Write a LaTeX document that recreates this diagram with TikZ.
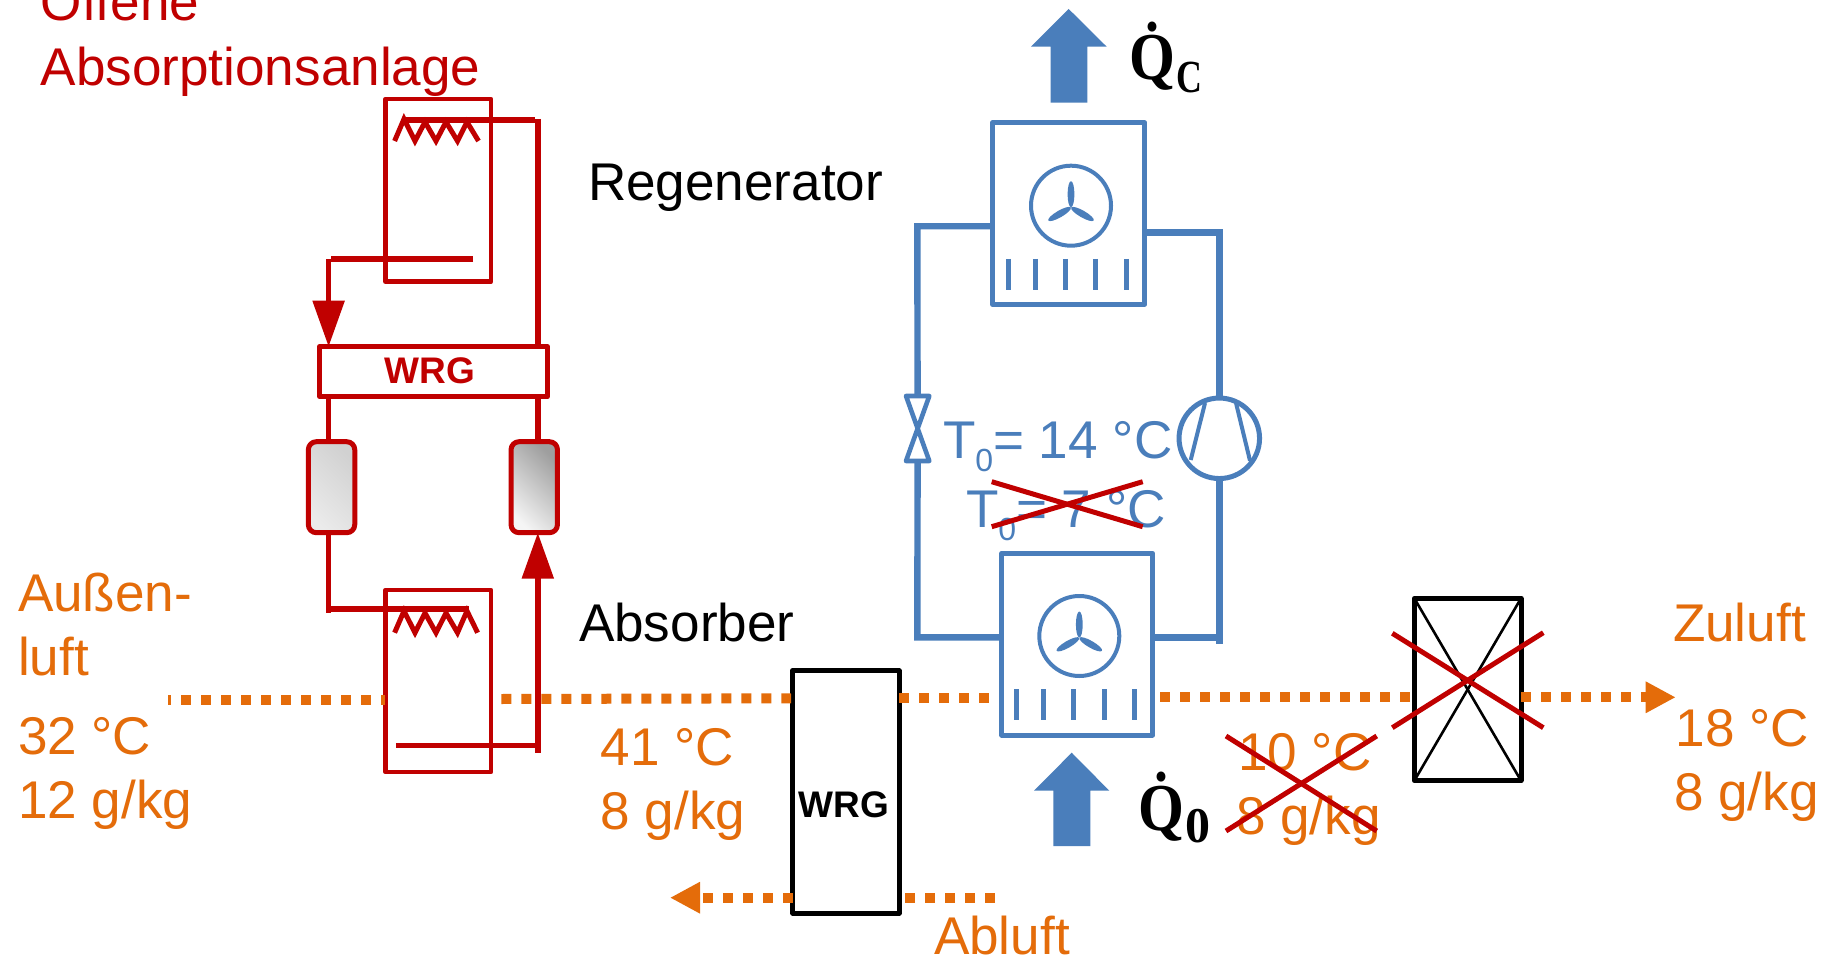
\documentclass[tikz,border=0pt]{standalone}
\usepackage{fontspec}
\usepackage{graphicx}
\setmainfont{Liberation Sans}
\newfontfamily\qfont{Liberation Serif}
\usetikzlibrary{arrows.meta}
\definecolor{cred}{HTML}{C00000}
\definecolor{corange}{HTML}{E46C0A}
\definecolor{cblue}{HTML}{4A7EBB}
\newcommand{\bigtxt}{\fontsize{53.1}{60}\selectfont}
\newcommand{\wrgtxt}{\fontsize{37}{40}\selectfont\bfseries}
\newcommand{\subzero}[1]{\raisebox{-#1}{\fontsize{32}{32}\selectfont 0}}
\tikzset{
  x=1pt,y=-1pt,
  txt/.style={anchor=base west,inner sep=0pt,outer sep=0pt,font=\bigtxt},
  redtxt/.style={txt,text=cred},
  oratxt/.style={txt,text=corange},
  blutxt/.style={txt,text=cblue},
  blktxt/.style={txt,text=black},
  wrglabel/.style={anchor=center,inner sep=0pt,font=\wrgtxt},
  qlabel/.style={anchor=base west,inner sep=0pt,font=\qfont\bfseries\fontsize{67}{70}\selectfont},
  boxbase/.style={rectangle,inner sep=0pt,outer sep=0pt,line join=round},
  redbox/.style={boxbase,draw=cred,line width=4.7pt},
  blubox/.style={boxbase,draw=cblue,line width=5pt},
  blkbox/.style={boxbase,draw=black,line width=5pt},
  recv/.style={boxbase,draw=cred,line width=5pt,rounded corners=8pt,minimum width=46.4pt,minimum height=91pt},
  rpipe/.style={draw=cred,line width=5.5pt},
  bpipe/.style={draw=cblue,line width=6.4pt},
  rarrow/.style={rpipe,-{Triangle[length=46pt,width=31pt]}},
  air/.style={draw=corange,line width=10pt,dash pattern=on 10pt off 10pt},
  airhead/.style={air,-{Triangle[length=30pt,width=29.5pt]}},
  cross/.style={draw=cred,line width=5pt},
  coil/.style={draw=cred,line width=5pt,line join=miter},
  tick/.style={draw=cblue,line width=4.7pt},
  heatarrow/.style={fill=cblue,draw=none},
  fan/.pic={
    \draw[cblue,line width=4pt] (0,0) circle[radius=40pt];
    \foreach \a in {0,120,240}
      \fill[cblue,rotate around={\a:(0,1.7)}] (0,-11.5) ellipse[x radius=3.4pt,y radius=13pt];
  }
}
\begin{document}
\begin{tikzpicture}
\useasboundingbox (0,0) rectangle (1828,957);
\clip (0,0) rectangle (1828,957);
\fill[white] (0,0) rectangle (1828,957);

% ---------- boxes
\node[redbox,minimum width=105.5pt,minimum height=182.7pt] (rtop) at (438.25,190.35) {};
\node[redbox,minimum width=105.5pt,minimum height=182pt] (rbot) at (438.25,681) {};
\node[redbox,minimum width=228pt,minimum height=50pt] (rwrg) at (433.55,371.7) {};
\node[recv,left color=black!18,right color=black!8,shading angle=-45] (rcl) at (331.55,487.2) {};
\node[recv,left color=black!38,right color=black!4,shading angle=-45] (rcr) at (534.25,487.2) {};
\node[blkbox,minimum width=106.3pt,minimum height=242.3pt] (bwrg) at (845.85,791.85) {};
\node[blubox,minimum width=152pt,minimum height=181.6pt] (bb1) at (1068.7,213.5) {};
\node[blubox,minimum width=151pt,minimum height=181.7pt] (bb2) at (1077.2,644.15) {};
\node[blkbox,minimum width=106.7pt,minimum height=182.4pt] (kbox) at (1467.65,689.5) {};
\node[circle,draw=cblue,line width=5pt,inner sep=0pt,outer sep=0pt,minimum size=80.5pt] (comp) at (1219.3,438.3) {};

% ---------- coordinates
\coordinate (pipeL) at (328.6,259);
\coordinate (pipeLs) at (330.6,259);
\coordinate (pipeLe) at (473,259);
\coordinate (pipeR) at (537.8,119);
\coordinate (pipeRs) at (404,120);
\coordinate (pipeRe) at (534.6,120);
\coordinate (lowLs) at (326,609);
\coordinate (lowLc) at (328.6,613);
\coordinate (lowLe) at (468.6,609);
\coordinate (lowBs) at (395.8,745.7);
\coordinate (lowBc) at (537.8,745.7);
\coordinate (lowBe) at (537.8,752.7);
\coordinate (blL) at (917.3,226.3);
\coordinate (blR) at (1219.3,232.7);
\coordinate (blLb) at (917.3,637.3);
\coordinate (blRb) at (1219.3,637.3);
\coordinate (blRe) at (1219.3,644);
\coordinate (valveT) at (917.6,396);
\coordinate (valveB) at (917.6,461);
\coordinate (airstart) at (168,699.7);
\coordinate (airA) at (385,699.7);
\coordinate (airB) at (501.4,699);
\coordinate (airC) at (791,698.3);
\coordinate (airD) at (991,698);
\coordinate (zutip) at (1675.7,697.3);
\coordinate (abEnd) at (995,897.7);
\coordinate (abTip) at (670,897.7);

% ---------- red circuit
\draw[coil] (394.6,141) -- (404,119) -- (415,141) -- (425,122) -- (436,141) -- (446,122) -- (457.5,141) -- (467,122) -- (478.5,141);
\draw[coil] (394.6,632.7) -- (404,611) -- (415,632.7) -- (425,613) -- (436,632.7) -- (446,613) -- (457.5,632.7) -- (467,611) -- (477.6,632.7);
\draw[rpipe] (pipeRs) -- (pipeRe);
\draw[rpipe] (pipeR) -- (pipeR |- rwrg.north);
\draw[rpipe] (pipeLe) -- (pipeLs);
\draw[rarrow] (pipeL) -- (pipeL |- rwrg.north);
\draw[rpipe] (pipeL |- rwrg.south) -- (pipeL |- rcl.north);
\draw[rpipe] (pipeR |- rwrg.south) -- (pipeR |- rcr.north);
\draw[rpipe] (pipeL |- rcl.south) -- (lowLc);
\draw[rpipe] (lowLs) -- (lowLe);
\draw[rpipe] (lowBs) -- (lowBc);
\draw[rarrow] (lowBe) -- (lowBe |- rcr.south);

% ---------- blue circuit
\draw[bpipe,line join=miter] (bb1.west |- blL) -- (blL) -- (valveT);
\draw[bpipe,line join=miter] (bb1.east |- blR) -- (blR) -- (comp.north);
\draw[bpipe,line join=miter] (valveB) -- (blLb) -- (bb2.west |- blLb);
\draw[bpipe] (comp.south) -- (blRe);
\draw[bpipe] (bb2.east |- blRb) -- (blRb);
\draw[draw=cblue,line width=4.6pt,line join=round] (valveT -| 906,0) -- (929.3,396) -- (valveB -| 906,0) -- (929.3,461) -- cycle;
\draw[draw=cblue,line width=4pt] (1205,403) -- (1190.7,460);
\draw[draw=cblue,line width=4pt] (1236,403) -- (1250,460.7);
\pic at (1071,205.7) {fan};
\pic at (1079.3,636) {fan};
\foreach \x in {1008.3,1035.3,1065.3,1095.3,1126.3} \draw[tick] (\x,259) -- (\x,290);
\foreach \x in {1016.7,1043.3,1073.3,1104.3,1134.3} \draw[tick] (\x,689) -- (\x,720);
\fill[heatarrow] (1068.7,9) -- (1106.7,46.7) -- (1087.3,46.7) -- (1087.3,102.7) -- (1050.7,102.7) -- (1050.7,46.7) -- (1031,46.7) -- cycle;
\fill[heatarrow] (1071.7,752.7) -- (1109.3,790.7) -- (1090.3,790.7) -- (1090.3,846) -- (1053.3,846) -- (1053.3,790.7) -- (1034,790.7) -- cycle;

% ---------- air
\draw[air,dash phase=7pt] (airstart) -- (airA);
\draw[air] (airB) -- (airC);
\draw[air] (bwrg.east |- airD) -- (airD);
\draw[air] (1160,697.3) -- (kbox.west |- zutip);
\draw[airhead] (kbox.east |- zutip) -- (zutip);
\draw[air] (abEnd) -- (bwrg.east |- abEnd);
\draw[airhead] (bwrg.west |- abEnd) -- (abTip);

% ---------- black box diagonals
\draw[black,line width=2.6pt] (kbox.north west) -- (kbox.south east);
\draw[black,line width=2.6pt] (kbox.north east) -- (kbox.south west);

% ---------- texts
\node[redtxt] (t1) at (40.7,20.7) {Offene};
\node[redtxt] (t2) at (40.7,85.7) {Absorptionsanlage};
\node[blktxt] (t3) at (588,200.5) {Regenerator};
\node[blktxt] (t4) at (579,641) {Absorber};
\node[oratxt] (t5) at (18,611) {Außen-};
\node[oratxt] (t6) at (18,675) {luft};
\node[oratxt] (t7) at (18,754) {32 °C};
\node[oratxt] (t8) at (18,818.3) {12 g/kg};
\node[oratxt] (t9) at (600.5,765) {41 °C};
\node[oratxt] (t10) at (600.5,829) {8 g/kg};
\node[oratxt] (t11) at (934,954) {Abluft};
\node[oratxt] (t12) at (1673,641.5) {Zuluft};
\node[oratxt] (t13) at (1675.5,746.7) {18 °C};
\node[oratxt] (t14) at (1674,810.7) {8 g/kg};
\node[oratxt] (t15) at (1238,770) {10 °C};
\node[oratxt] (t16) at (1236,834) {8 g/kg};
\node[blutxt] (t17) at (943,458.3) {T\subzero{12.7pt}= 14 °C};
\node[blutxt] (t18) at (966,527.7) {T\subzero{12.3pt}= 7 °C};
\node[wrglabel,text=cred] (w1) at (430,371) {WRG};
\node[wrglabel,text=black] (w2) at (844,805) {WRG};
\node[qlabel] (q1) at (1129.5,80) {\scalebox{.88}[1]{\.{Q}}\hspace{1pt}\raisebox{-12.7pt}{\fontsize{46}{46}\selectfont\scalebox{.78}[1]{C}}};
\node[qlabel] (q2) at (1138,830) {\scalebox{.88}[1]{\.{Q}}\hspace{1pt}\raisebox{-12.7pt}{\fontsize{50}{50}\selectfont 0}};

% ---------- crosses
\draw[cross] (991.7,481.7) -- (1142.7,526.7);
\draw[cross] (991.7,526.7) -- (1142.7,481.7);
\draw[cross] (1226,736) -- (1376.7,831);
\draw[cross] (1226,831) -- (1376.7,736);
\draw[cross] (1392.3,633.3) -- (1543.3,727.7);
\draw[cross] (1392.3,727.7) -- (1543.3,632.7);
\end{tikzpicture}
\end{document}
